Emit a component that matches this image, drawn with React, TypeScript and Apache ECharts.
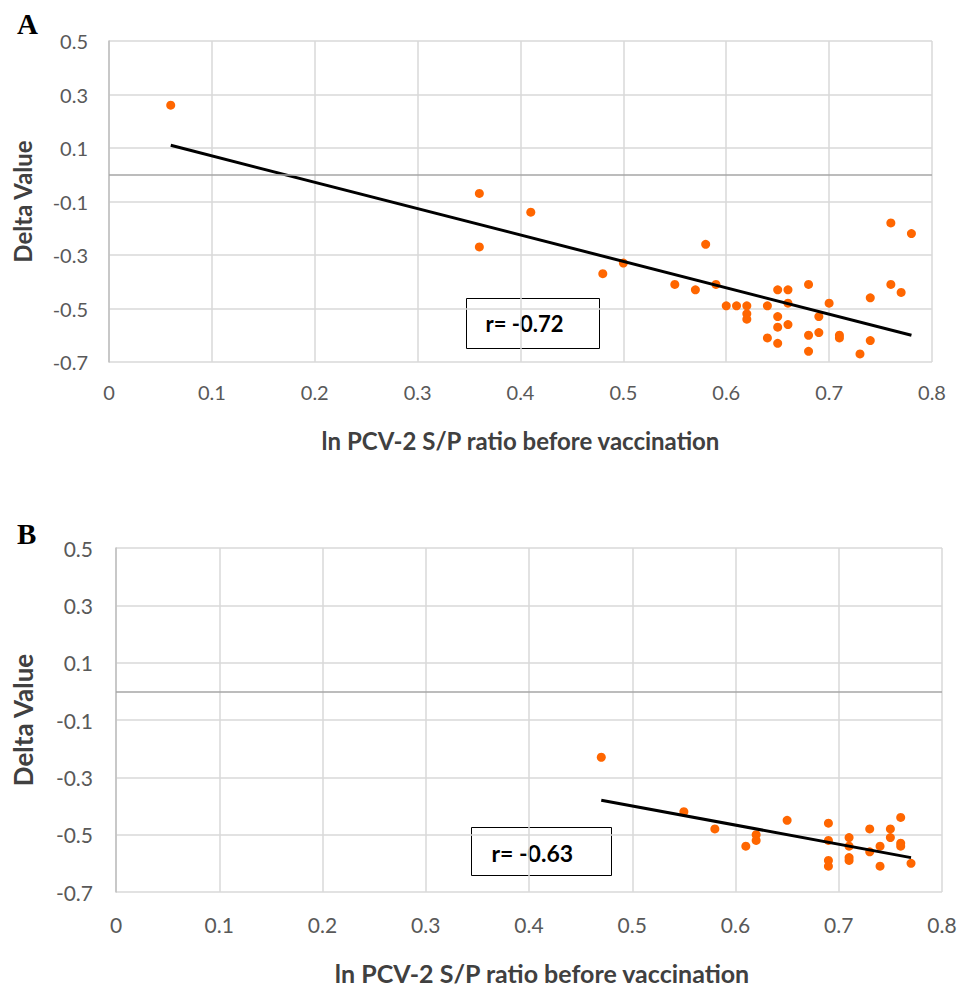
import React, { useEffect, useRef } from "react";
import * as echarts from "echarts";

const xTicks = [0, 0.1, 0.2, 0.3, 0.4, 0.5, 0.6, 0.7, 0.8];
const yTicks = [-0.7, -0.5, -0.3, -0.1, 0.1, 0.3, 0.5];

const xA = [0.06, 0.36, 0.36, 0.41, 0.48, 0.5, 0.55, 0.57, 0.58, 0.59, 0.6, 0.61, 0.62, 0.62, 0.62, 0.64, 0.64, 0.65, 0.65, 0.65, 0.65, 0.66, 0.66, 0.66, 0.68, 0.68, 0.68, 0.69, 0.69, 0.7, 0.71, 0.71, 0.73, 0.74, 0.74, 0.76, 0.76, 0.77, 0.78];
const yA = [0.26, -0.07, -0.27, -0.14, -0.37, -0.33, -0.41, -0.43, -0.26, -0.41, -0.49, -0.49, -0.49, -0.52, -0.54, -0.49, -0.61, -0.43, -0.53, -0.57, -0.63, -0.43, -0.48, -0.56, -0.41, -0.6, -0.66, -0.53, -0.59, -0.48, -0.6, -0.61, -0.67, -0.46, -0.62, -0.18, -0.41, -0.44, -0.22];

const xB = [0.47, 0.55, 0.58, 0.61, 0.62, 0.62, 0.65, 0.69, 0.69, 0.69, 0.69, 0.71, 0.71, 0.71, 0.71, 0.73, 0.73, 0.74, 0.74, 0.75, 0.75, 0.76, 0.76, 0.76, 0.77];
const yB = [-0.23, -0.42, -0.48, -0.54, -0.5, -0.52, -0.45, -0.46, -0.52, -0.59, -0.61, -0.51, -0.54, -0.58, -0.59, -0.48, -0.56, -0.54, -0.61, -0.48, -0.51, -0.44, -0.53, -0.54, -0.6];

const trendAx = [0.06, 0.78];
const trendAy = [0.11, -0.6];
const trendBx = [0.47, 0.77];
const trendBy = [-0.38, -0.58];

const rA = "r= -0.72";
const rB = "r= -0.63";
const xTitle = "ln PCV-2 S/P ratio before vaccination";
const yTitle = "Delta Value";

const FONT = "Lato, 'Open Sans', sans-serif";
const ORANGE = "#FF6600";

function zip(xs: number[], ys: number[]) {
  return xs.map((x, i) => [x, ys[i]]);
}

function xAxisCfg(gridIndex: number, fontSize: number, titleSize: number, margin: number, nameGap: number, shift: number) {
  return {
    type: "value",
    gridIndex,
    min: xTicks[0],
    max: xTicks[xTicks.length - 1],
    interval: 0.1,
    axisLine: { show: false },
    axisTick: { show: false },
    axisLabel: {
      color: "#595959",
      fontSize,
      fontFamily: FONT,
      margin,
      formatter: (v: number) => String(Math.round(v * 10) / 10),
    },
    splitLine: { show: true, lineStyle: { color: "#D9D9D9", width: 1.5 } },
    name: xTitle,
    nameLocation: "middle",
    nameGap,
    nameTextStyle: {
      color: "#404040",
      fontSize: titleSize,
      fontWeight: "bold",
      fontFamily: FONT,
      padding: shift > 0 ? [0, 0, 0, shift * 2] : [0, -shift * 2, 0, 0],
    },
  };
}

function yAxisCfg(gridIndex: number, fontSize: number, titleSize: number, margin: number, nameGap: number) {
  return {
    type: "value",
    gridIndex,
    min: yTicks[0],
    max: yTicks[yTicks.length - 1],
    interval: 0.2,
    axisLine: { show: true, lineStyle: { color: "#BFBFBF", width: 1.5 } },
    axisTick: { show: false },
    axisLabel: {
      color: "#595959",
      fontSize,
      fontFamily: FONT,
      margin,
      formatter: (v: number) => String(Math.round(v * 10) / 10),
    },
    splitLine: { show: true, lineStyle: { color: "#D9D9D9", width: 1.5 } },
    name: yTitle,
    nameLocation: "middle",
    nameGap,
    nameTextStyle: { color: "#404040", fontSize: titleSize, fontWeight: "bold", fontFamily: FONT },
  };
}

function zeroLine() {
  return {
    silent: true,
    symbol: ["none", "none"],
    label: { show: false },
    lineStyle: { color: "#A6A6A6", width: 1.5, type: "solid" },
    data: [{ yAxis: 0 }],
  };
}

export default function App() {
  const ref = useRef<HTMLDivElement>(null);
  useEffect(() => {
    if (!ref.current) return;
    const chart = echarts.init(ref.current, null, { renderer: "svg" });
    chart.setOption({
      animation: false,
      backgroundColor: "#FFFFFF",
      grid: [
        { left: 109, top: 41, width: 823, height: 321 },
        { left: 116, top: 548, width: 826, height: 344 },
      ],
      xAxis: [xAxisCfg(0, 20, 24, 20, 66, 0), xAxisCfg(1, 21, 25, 22, 68, 13)],
      yAxis: [yAxisCfg(0, 20, 24, 21, 75), yAxisCfg(1, 21, 26, 23, 80)],
      series: [
        {
          type: "scatter",
          xAxisIndex: 0,
          yAxisIndex: 0,
          data: zip(xA, yA),
          symbolSize: 9,
          itemStyle: { color: ORANGE, opacity: 1 },
          markLine: zeroLine(),
          z: 3,
        },
        {
          type: "line",
          xAxisIndex: 0,
          yAxisIndex: 0,
          data: zip(trendAx, trendAy),
          showSymbol: false,
          lineStyle: { color: "#000000", width: 3 },
          z: 4,
        },
        {
          type: "scatter",
          xAxisIndex: 1,
          yAxisIndex: 1,
          data: zip(xB, yB),
          symbolSize: 9,
          itemStyle: { color: ORANGE, opacity: 1 },
          markLine: zeroLine(),
          z: 3,
        },
        {
          type: "line",
          xAxisIndex: 1,
          yAxisIndex: 1,
          data: zip(trendBx, trendBy),
          showSymbol: false,
          lineStyle: { color: "#000000", width: 3 },
          z: 4,
        },
      ],
      graphic: [
        {
          type: "text",
          left: 17,
          top: 9,
          style: { text: "A", font: "bold 29px 'Liberation Serif', 'Times New Roman', serif", fill: "#000" },
        },
        {
          type: "text",
          left: 17,
          top: 519,
          style: { text: "B", font: "bold 29px 'Liberation Serif', 'Times New Roman', serif", fill: "#000" },
        },
        {
          type: "group",
          left: 466,
          top: 298,
          children: [
            { type: "rect", shape: { x: 0, y: 0, width: 133, height: 50 }, style: { fill: "#fff", stroke: "#000", lineWidth: 1 } },
            { type: "text", x: 19, y: 25, style: { text: rA, font: `bold 22px ${FONT}`, fill: "#000", verticalAlign: "middle" } },
          ],
          z: 10,
        },
        {
          type: "group",
          left: 471,
          top: 827,
          children: [
            { type: "rect", shape: { x: 0, y: 0, width: 140, height: 48 }, style: { fill: "#fff", stroke: "#000", lineWidth: 1 } },
            { type: "text", x: 20, y: 25, style: { text: rB, font: `bold 23px ${FONT}`, fill: "#000", verticalAlign: "middle" } },
          ],
          z: 10,
        },
      ],
    });
    return () => chart.dispose();
  }, []);
  return (
    <div
      ref={ref}
      style={{ position: "absolute", left: 0, top: 0, width: 962, height: 990, background: "#fff" }}
    />
  );
}
